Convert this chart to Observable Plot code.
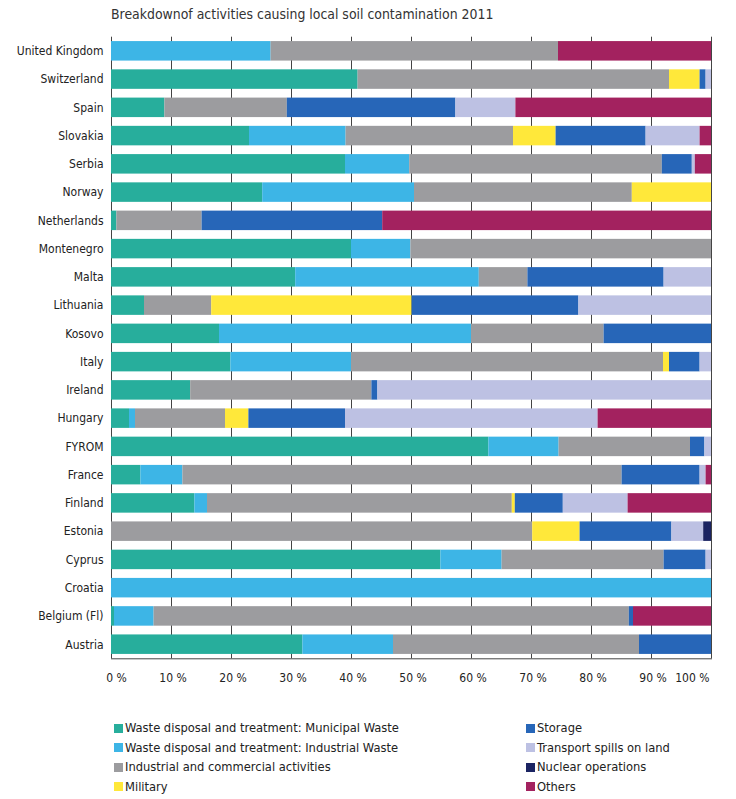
<!DOCTYPE html>
<html>
<head>
<meta charset="utf-8">
<script src="https://cdn.jsdelivr.net/npm/d3@7"></script>
<script src="https://cdn.jsdelivr.net/npm/@observablehq/plot@0.6"></script>
<style>
  html, body { margin: 0; padding: 0; background: #fff; }
  body { width: 736px; height: 799px; position: relative; overflow: hidden;
         font-family: "DejaVu Sans Condensed", "DejaVu Sans", sans-serif; font-stretch: condensed; color: #222; }
  #title { position: absolute; left: 111px; top: 0; height: 28px; line-height: 28px; font-size: 13.9px; color: #333; white-space: nowrap; }
  #chart { position: absolute; left: 0; top: 28px; }
  .lg { position: absolute; font-size: 12.8px; white-space: nowrap; line-height: 14px; height: 14px; }
  .lg span.sw { position: absolute; left: -11px; top: 2.5px; width: 9px; height: 9px; }
</style>
</head>
<body>
<div id="title">Breakdownof activities causing local soil contamination 2011</div>
<div id="chart"></div>
<div id="legend"></div>
<script>
const countries = ["United Kingdom","Switzerland","Spain","Slovakia","Serbia","Norway","Netherlands","Montenegro","Malta","Lithuania","Kosovo","Italy","Ireland","Hungary","FYROM","France","Finland","Estonia","Cyprus","Croatia","Belgium (Fl)","Austria"];
const categories = ["Waste disposal and treatment: Municipal Waste","Waste disposal and treatment: Industrial Waste","Industrial and commercial activities","Military","Storage","Transport spills on land","Nuclear operations","Others"];
const colors = ["#27ae9c","#3db5e6","#9c9c9f","#ffe83a","#2766b8","#bdc1e3","#1b2462","#a3225f"];
const municipal  = [0,41.1,8.9,23.0,39.0,25.2,0.9,40.0,30.7,5.5,18.0,19.9,13.2,3.0,62.9,4.9,13.9,0,54.9,0,0.5,31.9];
const industrialWaste = [26.6,0,0,16.1,10.7,25.3,0,9.9,30.6,0,42.0,20.1,0,1.0,11.7,7.0,2.1,0,10.2,100,6.6,15.1];
const industrialCommercial = [47.9,51.9,20.4,27.9,42.1,36.3,14.2,50.1,8.1,11.2,22.1,52.0,30.2,15.0,21.9,73.2,50.8,70.2,27.0,0,79.2,41.0];
const military   = [0,5.1,0,7.1,0,13.2,0,0,0,33.4,0,1.0,0,3.9,0,0,0.5,7.9,0,0,0,0];
const storage    = [0,1.0,28.1,15.0,5.0,0,30.1,0,22.7,27.8,17.9,5.1,1.0,16.1,2.4,13.0,8.0,15.3,7.0,0,0.7,12.0];
const transport  = [0,0.9,10.0,9.0,0.5,0,0,0,7.9,22.1,0,1.9,55.6,42.1,1.1,1.0,10.8,5.3,0.9,0,0,0];
const nuclear    = [0,0,0,0,0,0,0,0,0,0,0,0,0,0,0,0,0,1.3,0,0,0,0];
const others     = [25.5,0,32.6,1.9,2.7,0,54.8,0,0,0,0,0,0,18.9,0,0.9,13.9,0,0,0,13.0,0];
const tickValues = [0,10,20,30,40,50,60,70,80,90,100];
const tickLabels = ["0 %","10 %","20 %","30 %","40 %","50 %","60 %","70 %","80 %","90 %","100 %"];

const series = [municipal, industrialWaste, industrialCommercial, military, storage, transport, nuclear, others];
const data = [];
countries.forEach((c, i) => {
  series.forEach((s, k) => { if (s[i] > 0) data.push({country: c, category: categories[k], value: s[i]}); });
});
const ticks = tickValues.map((v, i) => ({v: v / 100, label: tickLabels[i]}));

const plot = Plot.plot({
  width: 736,
  height: 672,
  marginLeft: 111,
  marginRight: 25,
  marginTop: 8.7,
  marginBottom: 41.7,
  style: {fontFamily: "'DejaVu Sans Condensed', 'DejaVu Sans', sans-serif", fontSize: "12px", color: "#222", background: "#fff"},
  x: {domain: [0, 1], axis: null},
  y: {domain: countries, paddingInner: 0.31, paddingOuter: 0.155, align: 0.5, round: false, label: null},
  color: {domain: categories, range: colors},
  marks: [
    Plot.gridX(ticks.map(d => d.v), {stroke: "#444", strokeOpacity: 1, strokeWidth: 1}),
    Plot.barX(data, Plot.stackX({x: "value", y: "country", fill: "category", offset: "normalize", order: null})),
    Plot.frame({anchor: "bottom", stroke: "#444"}),
    Plot.axisY({tickSize: 0, tickPadding: 8, fontSize: 12, label: null}),
    Plot.text(ticks.slice(0, 1), {x: "v", text: "label", frameAnchor: "bottom", dy: 23.5, dx: 5, fontSize: 12, fill: "#222"}),
    Plot.text(ticks.slice(1, 10), {x: "v", text: "label", frameAnchor: "bottom", dy: 23.5, dx: 1.5, fontSize: 12, fill: "#222"}),
    Plot.text(ticks.slice(10), {x: "v", text: "label", frameAnchor: "bottom", dy: 23.5, dx: -2, textAnchor: "end", fontSize: 12, fill: "#222"})
  ]
});
document.getElementById("chart").appendChild(plot);

const legend = document.getElementById("legend");
const rowsY = [728.3, 747.8, 767.4, 786.8];
categories.forEach((c, k) => {
  const col = Math.floor(k / 4), row = k % 4;
  const el = document.createElement("div");
  el.className = "lg";
  el.style.left = (col === 0 ? 125 : 537) + "px";
  el.style.top = (rowsY[row] - 7) + "px";
  el.innerHTML = `<span class="sw" style="background:${colors[k]}"></span>`;
  el.appendChild(document.createTextNode(c));
  legend.appendChild(el);
});
</script>
</body>
</html>
